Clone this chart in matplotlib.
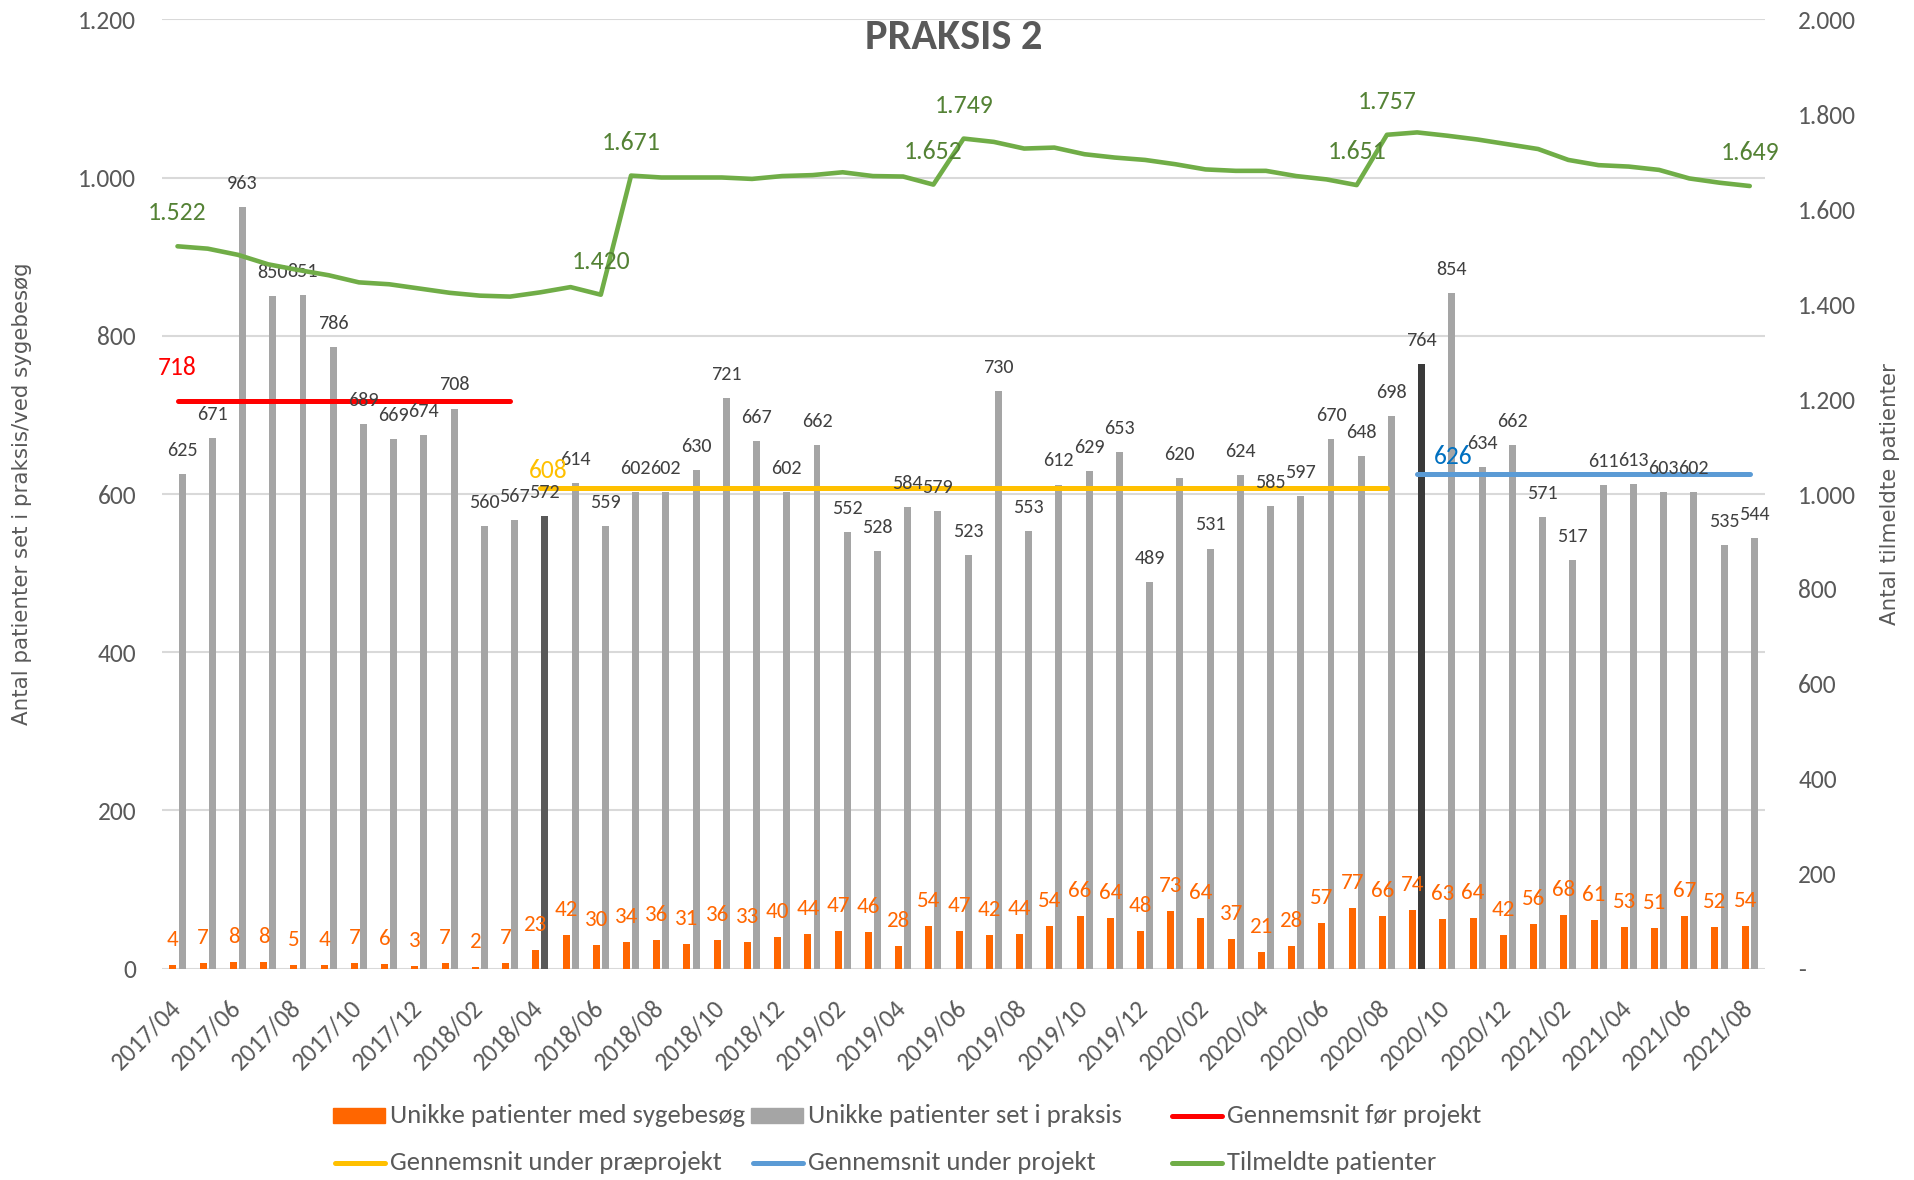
import matplotlib
matplotlib.use('Agg')
import matplotlib.pyplot as plt
from matplotlib import font_manager
from matplotlib.patches import Rectangle
from matplotlib.lines import Line2D
from matplotlib.ticker import FuncFormatter
import numpy as np

# pick a Calibri-like font if one is installed
installed = {f.name for f in font_manager.fontManager.ttflist}
main_font = next((f for f in ['Carlito', 'Liberation Sans Narrow', 'Lato'] if f in installed), 'DejaVu Sans')
plt.rcParams['font.family'] = [main_font, 'DejaVu Sans']

# data
months = [f"{y}/{m:02d}" for y in range(2017, 2022) for m in range(1, 13)]
months = months[months.index('2017/04'):months.index('2021/08') + 1]

sick_visits = [4, 7, 8, 8, 5, 4, 7, 6, 3, 7, 2, 7, 23, 42, 30, 34, 36, 31, 36, 33, 40,
               44, 47, 46, 28, 54, 47, 42, 44, 54, 66, 64, 48, 73, 64, 37, 21, 28, 57,
               77, 66, 74, 63, 64, 42, 56, 68, 61, 53, 51, 67, 52, 54]
seen_in_practice = [625, 671, 963, 850, 851, 786, 689, 669, 674, 708, 560, 567, 572,
                    614, 559, 602, 602, 630, 721, 667, 602, 662, 552, 528, 584, 579,
                    523, 730, 553, 612, 629, 653, 489, 620, 531, 624, 585, 597, 670,
                    648, 698, 764, 854, 634, 662, 571, 517, 611, 613, 603, 602, 535, 544]
registered = [1522, 1517, 1504, 1484, 1472, 1461, 1446, 1442, 1433, 1424,
              1418, 1416, 1425, 1436, 1420, 1671, 1667, 1667, 1667, 1664,
              1670, 1672, 1678, 1670, 1669, 1652, 1749, 1742, 1728, 1730,
              1716, 1709, 1704, 1695, 1684, 1681, 1681, 1670, 1663, 1651,
              1757, 1762, 1755, 1747, 1737, 1727, 1704, 1693, 1690, 1683,
              1665, 1656, 1649]
registered_labelled = ['2017/04', '2018/06', '2018/07', '2019/05', '2019/06', '2020/07', '2020/08', '2021/08']
highlight_months = {'2018/04': '#595959', '2020/09': '#3A3A3A'}

# averaging periods (first month, last month)
period_before = ('2017/04', '2018/03')
period_pre = ('2018/04', '2020/08')
period_project = ('2020/09', '2021/08')


def fmt(v):
    return f"{v:,.0f}".replace(",", ".")


x = np.arange(len(months))
text_gray = '#595959'

fig = plt.figure(figsize=(19.15, 11.80), dpi=100)
ax = fig.add_axes([0.0848, 0.1792, 0.8368, 0.8043])
ax2 = ax.twinx()
ax2.set_position(ax.get_position())

bar_w = 0.23
gray_colors = [highlight_months.get(m, '#A5A5A5') for m in months]
ax.bar(x - 0.15, sick_visits, bar_w, color='#FF6600', zorder=2)
ax.bar(x + 0.15, seen_in_practice, bar_w, color=gray_colors, zorder=2)

for i in x:
    ax.annotate(str(seen_in_practice[i]), (x[i] + 0.15, seen_in_practice[i]), xytext=(0, 17),
                textcoords='offset points', ha='center', va='center', fontsize=14.5, color='#404040', zorder=5)
    ax.annotate(str(sick_visits[i]), (x[i] - 0.15, sick_visits[i]), xytext=(0, 18),
                textcoords='offset points', ha='center', va='center', fontsize=16.6, color='#FF6600', zorder=5)

# averages
avg_specs = [(period_before, '#FF0000', '#FF0000', 0.0, 24),
             (period_pre, '#FFC000', '#FFC000', 0.25, 12),
             (period_project, '#5B9BD5', '#0070C0', 1.2, 12)]
for (start, end), line_col, text_col, lab_dx, lab_dy in avg_specs:
    i0, i1 = months.index(start), months.index(end)
    avg = np.mean(seen_in_practice[i0:i1 + 1])
    ax.plot([x[i0], x[i1]], [avg, avg], color=line_col, lw=3.6, solid_capstyle='round', zorder=4)
    ax.annotate(fmt(avg), (x[i0] + lab_dx, avg), xytext=(0, lab_dy), textcoords='offset points',
                ha='center', va='center', fontsize=18.4, color=text_col, zorder=6)

ax2.plot(x, registered, color='#70AD47', lw=3.3, solid_capstyle='round', solid_joinstyle='round', zorder=3)
for m in registered_labelled:
    i = months.index(m)
    ax2.annotate(fmt(registered[i]), (x[i], registered[i]), xytext=(0, 24), textcoords='offset points',
                 ha='center', va='center', fontsize=18.5, color='#548235')

ax.set_xlim(-0.5, len(months) - 0.5)
ax.set_ylim(0, 1200)
ax2.set_ylim(0, 2000)
ax.set_yticks(range(0, 1201, 200))
ax2.set_yticks(range(0, 2001, 200))
ax.yaxis.set_major_formatter(FuncFormatter(lambda v, p: fmt(v)))
ax2.yaxis.set_major_formatter(FuncFormatter(lambda v, p: '-' if v == 0 else fmt(v)))
ax.grid(axis='y', color='#D9D9D9', lw=1.5, zorder=0)
ax.set_axisbelow(True)
for a in (ax, ax2):
    for s in a.spines.values():
        s.set_visible(False)
ax.tick_params(axis='y', length=0, labelsize=18.4, labelcolor=text_gray, pad=19)
ax2.tick_params(axis='y', length=0, labelsize=18.4, labelcolor=text_gray, pad=24)

# rotated month labels: right end of the baseline sits just right of the group centre
ax.set_xticks(x[::2] + 0.14)
ax.set_xticklabels(months[::2], rotation=45, ha='right', va='baseline', rotation_mode='anchor')
ax.tick_params(axis='x', length=0, labelsize=18.4, labelcolor=text_gray, pad=29)

fig.text(953.5 / 1915, 1 - 37.7 / 1180, 'PRAKSIS 2', ha='center', va='center', fontsize=30.5,
         fontweight='bold', color=text_gray)
fig.text(22 / 1915, 1 - 494 / 1180, 'Antal patienter set i praksis/ved sygebesøg', rotation=90,
         ha='center', va='center', fontsize=15.4, color=text_gray, family='DejaVu Sans')
fig.text(1890 / 1915, 1 - 494 / 1180, 'Antal tilmeldte patienter', rotation=90,
         ha='center', va='center', fontsize=15.4, color=text_gray, family='DejaVu Sans')

# legend, drawn by hand on an even 3-column grid
legend_items = [('patch', '#FF6600', 'Unikke patienter med sygebesøg'),
                ('patch', '#A5A5A5', 'Unikke patienter set i praksis'),
                ('line', '#FF0000', 'Gennemsnit før projekt'),
                ('line', '#FFC000', 'Gennemsnit under præprojekt'),
                ('line', '#5B9BD5', 'Gennemsnit under projekt'),
                ('line', '#70AD47', 'Tilmeldte patienter')]
W, H = 1915, 1180
for k, (kind, col, label) in enumerate(legend_items):
    x0 = 333 + (k % 3) * 418.5
    yc = 1115.5 if k < 3 else 1163
    if kind == 'patch':
        fig.add_artist(Rectangle((x0 / W, 1 - (yc + 7.5) / H), 52 / W, 15 / H, color=col,
                                 transform=fig.transFigure))
    else:
        fig.add_artist(Line2D([(x0 + 2) / W, (x0 + 52) / W], [1 - yc / H, 1 - yc / H], color=col, lw=3.6,
                              solid_capstyle='round', transform=fig.transFigure))
    fig.text((x0 + 57) / W, 1 - yc / H, label, ha='left', va='center', fontsize=19.2, color=text_gray)

fig.savefig('out.png', dpi=100)
